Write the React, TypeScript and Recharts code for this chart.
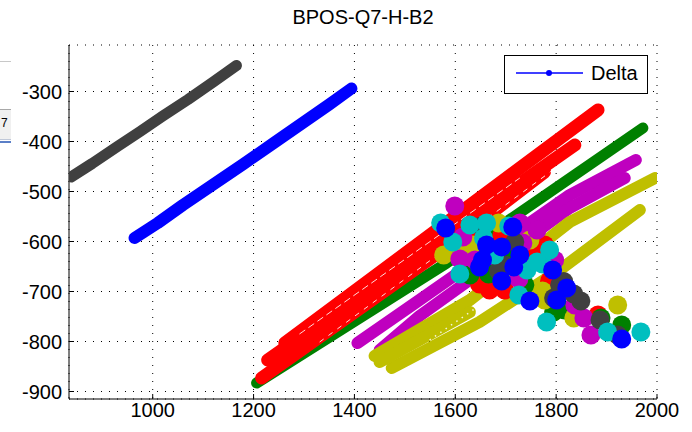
import React from 'react';
import { ScatterChart, Scatter, XAxis, YAxis, CartesianGrid, Legend } from 'recharts';

const chartTitle = 'BPOS-Q7-H-B2';
const legendLabel = 'Delta';
const xTicks = [1000, 1200, 1400, 1600, 1800, 2000];
const yTicks = [-900, -800, -700, -600, -500, -400, -300];
const yMinorTicks = [-900, -880, -860, -840, -820, -800, -780, -760, -740, -720, -700, -680, -660, -640, -620, -600, -580, -560, -540, -520, -500, -480, -460, -440, -420, -400, -380, -360, -340, -320, -300, -280, -260, -240, -220];
const xDomain = [834, 2000];
const yDomain = [-915, -207];

// bands (dense traces)
const blackBand = [
  { x: 838, y: -471 }, { x: 880, y: -444 }, { x: 930, y: -410 }, { x: 975, y: -380 },
  { x: 1020, y: -349 }, { x: 1070, y: -316 }, { x: 1120, y: -281 }, { x: 1166, y: -248 },
];
const blueBand = [
  { x: 964, y: -593 }, { x: 1010, y: -563 }, { x: 1060, y: -527 }, { x: 1120, y: -486 },
  { x: 1180, y: -445 }, { x: 1240, y: -403 }, { x: 1300, y: -361 }, { x: 1350, y: -326 }, { x: 1394, y: -294 },
];
const greenBand = [{ x: 1206, y: -883 }, { x: 1583, y: -643 }, { x: 1972, y: -373 }];
const redBand1 = [{ x: 1262, y: -803 }, { x: 1883, y: -337 }];
const redBand2 = [{ x: 1228, y: -837 }, { x: 1837, y: -407 }];
const redBand3 = [{ x: 1216, y: -873 }, { x: 1583, y: -611 }, { x: 1777, y: -461 }];
const magentaBand1 = [{ x: 1406, y: -803 }, { x: 1529, y: -717 }, { x: 1827, y: -507 }, { x: 1958, y: -437 }];
const magentaBand2 = [{ x: 1450, y: -817 }, { x: 1529, y: -749 }, { x: 1827, y: -533 }, { x: 1936, y: -473 }];
const yellowBand1 = [{ x: 1440, y: -829 }, { x: 1629, y: -717 }, { x: 1827, y: -561 }, { x: 1996, y: -473 }];
const yellowBand2 = [{ x: 1474, y: -853 }, { x: 1648, y: -761 }, { x: 1807, y: -657 }, { x: 1966, y: -537 }];
const yellowBand3 = [{ x: 1450, y: -841 }, { x: 1629, y: -741 }];
// thin light streaks inside the dense traces
const redStreak1 = [{ x: 1291, y: -785 }, { x: 1728, y: -473 }];
const redStreak2 = [{ x: 1331, y: -801 }, { x: 1807, y: -447 }];
const yellowStreak = [{ x: 1549, y: -797 }, { x: 1966, y: -507 }];

// cluster markers
const redBlobs = [
  { x: 1648, y: -685 }, { x: 1692, y: -589 }, { x: 1758, y: -617 }, { x: 1883, y: -747 },
  { x: 1787, y: -679 }, { x: 1742, y: -601 }, { x: 1668, y: -697 }, { x: 1777, y: -607 },
  { x: 1698, y: -697 }, { x: 1629, y: -597 },
];
const greenBlobs = [
  { x: 1666, y: -665 }, { x: 1672, y: -617 }, { x: 1714, y: -631 }, { x: 1795, y: -741 },
  { x: 1889, y: -753 }, { x: 1930, y: -767 }, { x: 1629, y: -667 }, { x: 1738, y: -687 }, { x: 1817, y: -737 },
];
const yellowBlobs = [
  { x: 1635, y: -607 }, { x: 1577, y: -627 }, { x: 1686, y: -563 }, { x: 1773, y: -699 },
  { x: 1835, y: -753 }, { x: 1922, y: -727 }, { x: 1609, y: -617 }, { x: 1748, y: -597 }, { x: 1777, y: -717 },
];
const magentaBlobs = [
  { x: 1599, y: -529 }, { x: 1615, y: -591 }, { x: 1609, y: -635 }, { x: 1734, y: -603 },
  { x: 1762, y: -577 }, { x: 1726, y: -675 }, { x: 1855, y: -753 }, { x: 1869, y: -787 }, { x: 1728, y: -563 },
  { x: 1639, y: -637 }, { x: 1797, y: -637 }, { x: 1837, y: -727 },
];
const darkBlobs = [
  { x: 1652, y: -569 }, { x: 1686, y: -659 }, { x: 1795, y: -713 }, { x: 1849, y: -719 },
  { x: 1922, y: -787 }, { x: 1718, y: -601 }, { x: 1821, y: -697 }, { x: 1835, y: -705 }, { x: 1815, y: -680 },
  { x: 1698, y: -647 }, { x: 1807, y: -687 }, { x: 1887, y: -757 },
];
const cyanBlobs = [
  { x: 1571, y: -563 }, { x: 1595, y: -601 }, { x: 1609, y: -665 }, { x: 1706, y: -569 },
  { x: 1662, y: -563 }, { x: 1656, y: -593 }, { x: 1726, y: -707 }, { x: 1773, y: -645 },
  { x: 1781, y: -761 }, { x: 1902, y: -781 }, { x: 1968, y: -781 }, { x: 1742, y: -657 }, { x: 1787, y: -617 },
  { x: 1629, y: -567 }, { x: 1678, y: -627 }, { x: 1762, y: -641 },
];
const blueBlobs = [
  { x: 1581, y: -573 }, { x: 1648, y: -651 }, { x: 1692, y: -611 }, { x: 1692, y: -679 },
  { x: 1716, y: -651 }, { x: 1748, y: -719 }, { x: 1821, y: -693 }, { x: 1930, y: -795 },
  { x: 1714, y: -571 }, { x: 1654, y: -637 }, { x: 1793, y: -657 }, { x: 1801, y: -717 },
  { x: 1662, y: -607 }, { x: 1728, y: -627 },
];

const C = {
  k: '#404040', b: '#0000ff', r: '#ff0000', g: '#008000', m: '#bf00bf', c: '#00bfbf', y: '#bfbf00',
};

const FONT = '"Liberation Sans", Arial, sans-serif';

const Empty = () => <g />;
const blob = (color: string) => (props: any) =>
  <circle cx={props.cx} cy={props.cy} r={9.5} fill={color} />;

const bandLine = (color: string, w: number) => ({
  stroke: color, strokeWidth: w, strokeLinecap: 'round', strokeLinejoin: 'round',
});
const streakLine = (dash: string, w: number) => ({
  stroke: '#ffffff', strokeWidth: w, strokeDasharray: dash, strokeOpacity: 0.85,
});

const LegendBox = () => (
  <svg width={144} height={39} style={{ display: 'block' }}>
    <rect x={0.5} y={0.5} width={143} height={38} fill="#fff" stroke="#000" />
    <line x1={12} y1={18} x2={79} y2={18} stroke="#0000ff" strokeWidth={1.5} />
    <circle cx={45} cy={18} r={3} fill="#0000ff" />
    <text x={87} y={25} fontSize={20} fontFamily={FONT} fill="#000">{legendLabel}</text>
  </svg>
);

export default function App() {
  return (
    <div style={{ position: 'absolute', left: 0, top: 0, width: 692, height: 432, background: '#fff', overflow: 'hidden' }}>
      <div style={{ position: 'absolute', left: 0, top: 61, width: 11, height: 1, background: '#c8c8c8' }} />
      <div style={{ position: 'absolute', left: 0, top: 109, width: 11, height: 29, background: '#f0f0f0', borderTop: '1px solid #a8a8a8', overflow: 'hidden', fontFamily: FONT, fontSize: 12 }}>
        <span style={{ position: 'absolute', left: 1, top: 6 }}>7</span>
      </div>
      <div style={{ position: 'absolute', left: 0, top: 139, width: 11, height: 1, background: '#c0c8d8' }} />
      <div style={{ position: 'absolute', left: 0, top: 141, width: 11, height: 2, background: '#5b7fc7' }} />
      <div style={{ position: 'absolute', left: 213, top: 5, width: 300, textAlign: 'center', fontFamily: FONT, fontSize: 20, lineHeight: '24px', color: '#000' }}>
        {chartTitle}
      </div>
      <ScatterChart width={692} height={432} margin={{ top: 45, right: 35, bottom: 0, left: 0 }}>
        <CartesianGrid stroke="#000" strokeDasharray="1 7" />
        <XAxis type="number" dataKey="x" domain={xDomain} ticks={xTicks} allowDataOverflow height={33}
          stroke="#000" tickSize={-5} tickMargin={9} interval={0}
          tick={{ fill: '#000', fontSize: 20, fontFamily: FONT }} />
        <XAxis xAxisId="top" orientation="top" type="number" domain={xDomain} ticks={xTicks} allowDataOverflow height={0}
          stroke="#000" tickSize={-5} tick={false} />
        <YAxis type="number" dataKey="y" domain={yDomain} ticks={yTicks} allowDataOverflow width={69}
          stroke="#000" tickSize={-5} tickMargin={12} interval={0}
          tick={{ fill: '#000', fontSize: 20, fontFamily: FONT }} />
        <YAxis yAxisId="right" orientation="right" type="number" domain={yDomain} ticks={yTicks} allowDataOverflow width={0}
          stroke="#000" tickSize={-5} tick={false} />
        <YAxis yAxisId="right2" orientation="right" type="number" domain={yDomain} ticks={yMinorTicks} allowDataOverflow width={0}
          stroke="#000" tickSize={3} tick={false} interval={0} />
        <Legend layout="horizontal" verticalAlign="middle" align="center" content={LegendBox}
          wrapperStyle={{ position: 'absolute', left: 504, top: 55, width: 144, height: 39 }} />

        <Scatter data={blackBand} line={bandLine(C.k, 11)} shape={Empty} isAnimationActive={false} legendType="none" />
        <Scatter data={blueBand} line={bandLine(C.b, 12)} shape={Empty} isAnimationActive={false} legendType="none" />
        <Scatter data={greenBand} line={bandLine(C.g, 11)} shape={Empty} isAnimationActive={false} legendType="none" />
        <Scatter data={redBand3} line={bandLine(C.r, 13)} shape={Empty} isAnimationActive={false} legendType="none" />
        <Scatter data={redBand2} line={bandLine(C.r, 13)} shape={Empty} isAnimationActive={false} legendType="none" />
        <Scatter data={redBand1} line={bandLine(C.r, 13)} shape={Empty} isAnimationActive={false} legendType="none" />
        <Scatter data={redStreak1} line={streakLine('7 4', 1)} shape={Empty} isAnimationActive={false} legendType="none" />
        <Scatter data={redStreak2} line={streakLine('5 6', 1)} shape={Empty} isAnimationActive={false} legendType="none" />
        <Scatter data={magentaBand1} line={bandLine(C.m, 12)} shape={Empty} isAnimationActive={false} legendType="none" />
        <Scatter data={magentaBand2} line={bandLine(C.m, 12)} shape={Empty} isAnimationActive={false} legendType="none" />
        <Scatter data={yellowBand1} line={bandLine(C.y, 12)} shape={Empty} isAnimationActive={false} legendType="none" />
        <Scatter data={yellowBand2} line={bandLine(C.y, 12)} shape={Empty} isAnimationActive={false} legendType="none" />
        <Scatter data={yellowBand3} line={bandLine(C.y, 12)} shape={Empty} isAnimationActive={false} legendType="none" />
        <Scatter data={yellowStreak} line={streakLine('1.5 5', 1.5)} shape={Empty} isAnimationActive={false} legendType="none" />

        <Scatter data={redBlobs} shape={blob(C.r)} isAnimationActive={false} legendType="none" />
        <Scatter data={greenBlobs} shape={blob(C.g)} isAnimationActive={false} legendType="none" />
        <Scatter data={yellowBlobs} shape={blob(C.y)} isAnimationActive={false} legendType="none" />
        <Scatter data={magentaBlobs} shape={blob(C.m)} isAnimationActive={false} legendType="none" />
        <Scatter data={darkBlobs} shape={blob(C.k)} isAnimationActive={false} legendType="none" />
        <Scatter data={cyanBlobs} shape={blob(C.c)} isAnimationActive={false} legendType="none" />
        <Scatter data={blueBlobs} shape={blob(C.b)} isAnimationActive={false} legendType="none" />
      </ScatterChart>
    </div>
  );
}
